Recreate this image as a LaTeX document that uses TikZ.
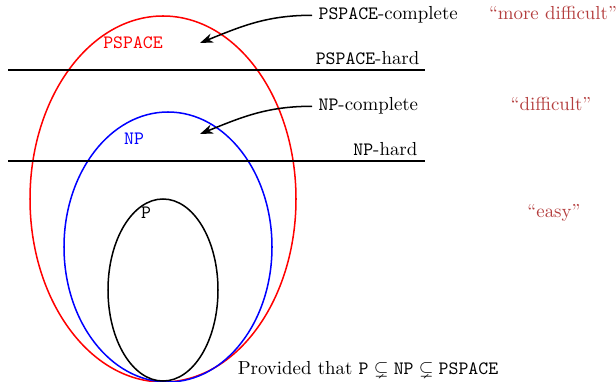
\documentclass[tikz,border=0pt]{standalone}
\usepackage{amsmath}
\usepackage{amssymb}
\usepackage{xcolor}
\usepackage{tikz}
\usetikzlibrary{positioning, arrows.meta}

\definecolor{quoteRed}{RGB}{180,62,62}
\tikzset{
  cls/.style={font=\ttfamily},
  remark/.style={text=quoteRed, anchor=base},
  bound/.style={line width=1pt},
  pointer/.style={-{Stealth[length=7pt,width=5pt]}, thick},
}

\begin{document}
\begin{tikzpicture}[x=0.53pt,y=-0.53pt]
  \useasboundingbox (0,0) rectangle (616,382);
  % the three classes
  \draw[red, thick] (163,199) ellipse [x radius=133, y radius=183];
  \draw[blue, thick] (168,247) ellipse [x radius=104, y radius=135];
  \draw[thick] (163,290) ellipse [x radius=55, y radius=91];
  \node[cls, text=red, anchor=base] (pspace) at (133,49) {PSPACE};
  \node[cls, text=blue, anchor=base] (np) at (134,145) {NP};
  \node[cls, anchor=base] (p) at (146,219) {P};
  % hardness borders
  \draw[bound] (8,70) coordinate (psL) -- (425,70) coordinate (psR);
  \draw[bound] (8,161) coordinate (npL) -- (425,161) coordinate (npR);
  \node[anchor=base east] (pshard) at (426,65) {\texttt{PSPACE}-hard};
  \node[anchor=base east] (nphard) at (424,156) {\texttt{NP}-hard};
  % complete problems
  \node[anchor=base west] (pscomp) at (312,20) {\texttt{PSPACE}-complete};
  \node[anchor=base west] (npcomp) at (312,111) {\texttt{NP}-complete};
  \coordinate (psTip) at (200,43);
  \coordinate (npTip) at (200,134);
  \draw[pointer] (pscomp.west) to[out=180,in=22] (psTip);
  \draw[pointer] (npcomp.west) to[out=180,in=22] (npTip);
  % difficulty remarks
  \node[remark] (moreDiff) at (553,20) {``more difficult''};
  \node[remark] (diff) at (551,111) {``difficult''};
  \node[remark] (easy) at (554,218) {``easy''};
  \node[anchor=base] (note) at (368,375)
    {Provided that $\mathtt{P}\subsetneq\mathtt{NP}\subsetneq\mathtt{PSPACE}$};
\end{tikzpicture}
\end{document}
